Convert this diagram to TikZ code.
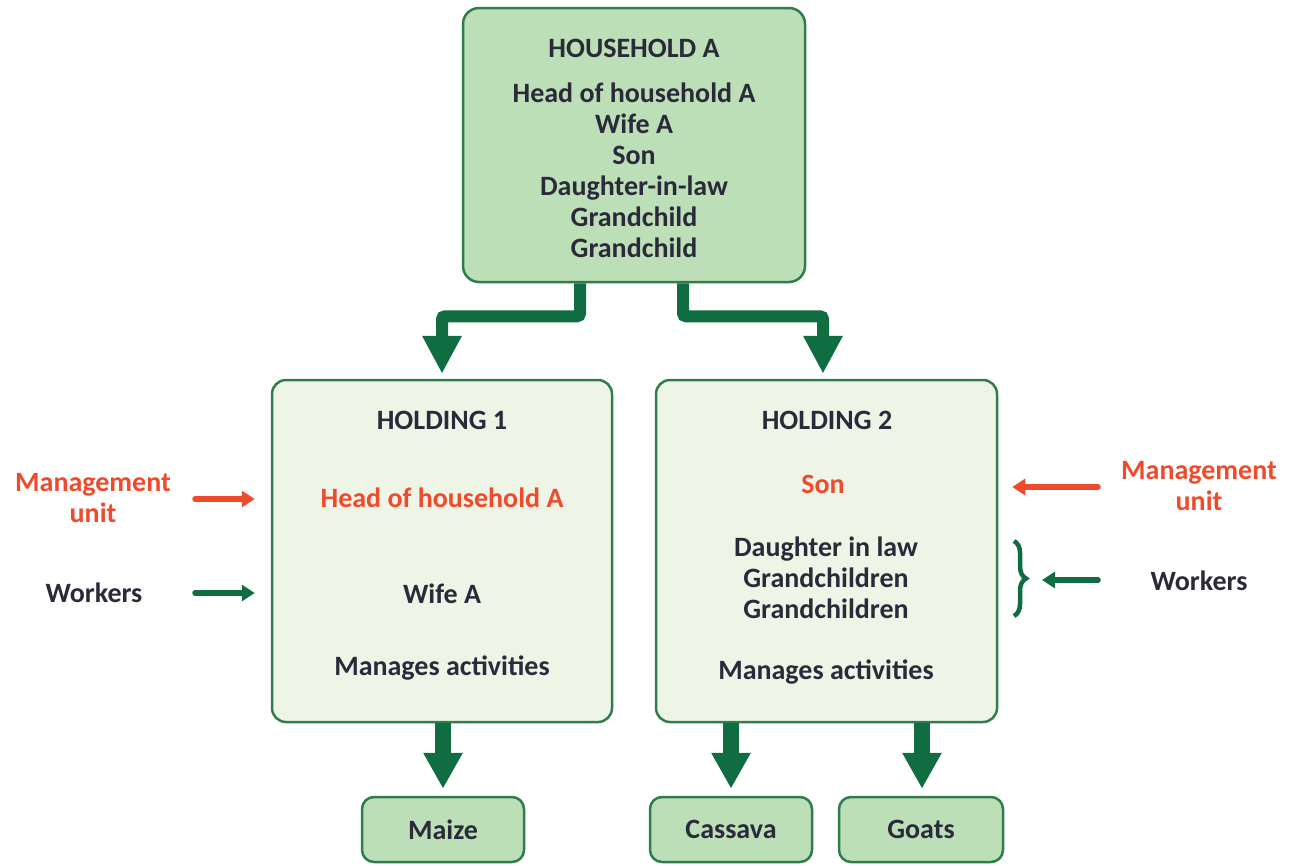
\documentclass[tikz,border=0pt]{standalone}
\usepackage{fontspec}
\setmainfont{Carlito}
\usetikzlibrary{arrows.meta,decorations.pathreplacing}
\definecolor{boxfill}{HTML}{BDDFB8}
\definecolor{holdfill}{HTML}{EEF5E7}
\definecolor{boxline}{HTML}{2F7D4F}
\definecolor{arrgreen}{HTML}{0F6D41}
\definecolor{txt}{HTML}{2A2A3A}
\definecolor{redtxt}{HTML}{F04A2C}
\tikzset{
  txtfont/.style={font=\bfseries\fontsize{28}{31}\selectfont, text=txt, align=center, inner sep=0pt},
  redfont/.style={txtfont, text=redtxt},
  bigbox/.style={draw=boxline, line width=2.5pt, fill=boxfill, rounded corners=16pt, minimum width=342pt, minimum height=274pt, inner sep=0pt},
  holdbox/.style={draw=boxline, line width=2.5pt, fill=holdfill, rounded corners=14pt, minimum width=340pt, minimum height=342pt, inner sep=0pt},
  smallbox/.style={draw=boxline, line width=2.5pt, fill=boxfill, rounded corners=12pt, minimum width=162pt, minimum height=65pt, inner sep=0pt},
  bigarrow/.style={draw=arrgreen, line width=12pt, rounded corners=3pt, -{Triangle[width=37pt,length=38pt]}},
  downarrow/.style={draw=arrgreen, line width=16pt, -{Triangle[width=37pt,length=36pt]}},
  redarrow/.style={draw=redtxt, line width=5.5pt, line cap=round, -{Triangle[width=16pt,length=13pt]}},
  greenarrow/.style={draw=arrgreen, line width=5.5pt, line cap=round, -{Triangle[width=16pt,length=13pt]}},
}
\begin{document}
\begin{tikzpicture}[x=1pt,y=-1pt]
\useasboundingbox (0,0) rectangle (1292,865);
% boxes
\node[bigbox] (hh) at (634,145) {};
\node[holdbox] (h1) at (442,551) {};
\node[holdbox, minimum width=341pt] (h2) at (826.5,551) {};
\node[smallbox] (maize) at (443,829.5) {};
\node[smallbox] (cassava) at (731,829.5) {};
\node[smallbox, minimum width=164pt] (goats) at (921,829.5) {};
% household text
\node[txtfont] (hht) at (634,48) {HOUSEHOLD A};
\node[txtfont] (hhm) at (634,170) {Head of household A\\Wife A\\Son\\Daughter-in-law\\Grandchild\\Grandchild};
% holding 1
\node[txtfont] (h1t) at (442,420) {HOLDING 1};
\node[redfont] (h1h) at (442,498) {Head of household A};
\node[txtfont] (h1w) at (442,594) {Wife A};
\node[txtfont] (h1m) at (442,668) {Manages activities};
% holding 2
\node[txtfont] (h2t) at (827,420) {HOLDING 2};
\node[redfont] (h2s) at (823,484) {Son};
\node[txtfont] (h2w) at (826,578) {Daughter in law\\Grandchildren\\Grandchildren};
\node[txtfont] (h2m) at (826,672) {Manages activities};
% products
\node[txtfont] (maizet) at (maize) {Maize};
\node[txtfont] (cassavat) at (cassava) {Cassava};
\node[txtfont] (goatst) at (goats) {Goats};
% side labels
\node[redfont] (mu1) at (93,498.5) {Management\\unit};
\node[txtfont] (wk1) at (94,593) {Workers};
\node[redfont] (mu2) at (1199,486) {Management\\unit};
\node[txtfont] (wk2) at (1199,581) {Workers};
% top connectors
\draw[bigarrow, shorten >=5pt] ([xshift=-54pt]hh.south) -- ++(0,33) -| (h1.north);
\draw[bigarrow, shorten >=5pt] ([xshift=49pt]hh.south) -- ++(0,33) -| ([xshift=-3.5pt]h2.north);
% bottom connectors
\draw[downarrow, shorten >=7pt] (h1.south -| maize.north) -- (maize.north);
\draw[downarrow, shorten >=7pt] (h2.south -| cassava.north) -- (cassava.north);
\draw[downarrow, shorten >=7pt] ([xshift=1pt]h2.south -| goats.north) -- ([xshift=1pt]goats.north);
% side arrows
\coordinate (mu1s) at (195,499);
\coordinate (wk1s) at (195,593);
\coordinate (mu2s) at (1098,487);
\coordinate (wk2s) at (1098,580);
\draw[redarrow, shorten >=16pt] (mu1s) -- (mu1s -| h1.west);
\draw[greenarrow, shorten >=16pt] (wk1s) -- (wk1s -| h1.west);
\draw[redarrow, shorten >=14pt] (mu2s) -- (mu2s -| h2.east);
\coordinate (brtop) at (1014,541);
\coordinate (brbot) at (1014,616);
\draw[draw=arrgreen, line width=4.5pt, decorate, decoration={brace, amplitude=12pt}] (brtop) -- (brbot);
\coordinate (brtip) at (1042,580);
\draw[greenarrow] (wk2s) -- (brtip);
\end{tikzpicture}
\end{document}
